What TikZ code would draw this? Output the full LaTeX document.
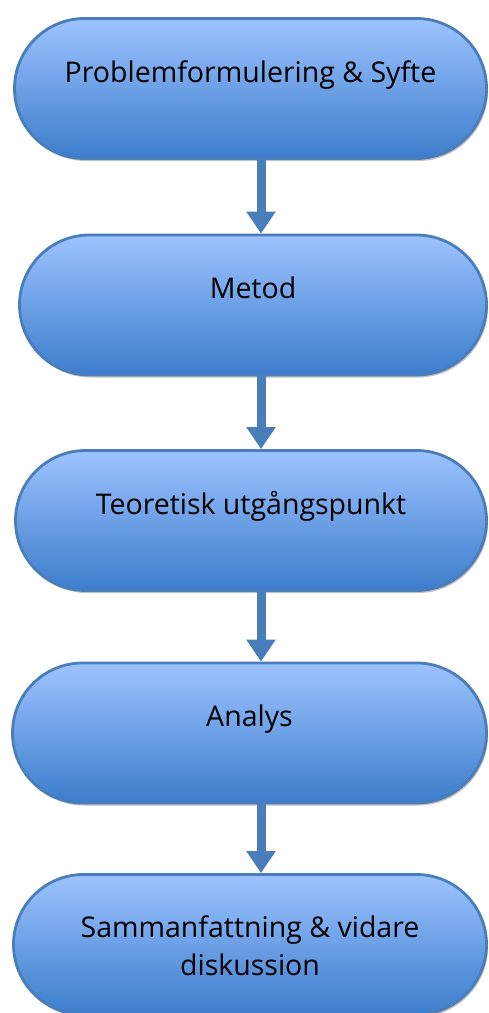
\documentclass[tikz,border=0pt]{standalone}
\usepackage{fontspec}
\setmainfont{Open Sans}
\usepackage{tikz}
\newcommand{\stageheight}{140pt}
\newcommand{\textdrop}{65pt}
\usetikzlibrary{arrows.meta,positioning,shapes.misc,shadows}
\definecolor{stagetop}{HTML}{9DC3FF}
\definecolor{stagebottom}{HTML}{3C7DCC}
\definecolor{stageborder}{HTML}{4A7EBB}
\tikzset{
  x=1pt,y=-1pt,
  stage/.style={draw=stageborder,line width=2.8pt,shape=rounded rectangle,top color=stagetop,bottom color=stagebottom,minimum height=\stageheight,inner sep=0,
    drop shadow={shadow xshift=1.5pt,shadow yshift=-2.5pt,fill=black!30,opacity=0.8}},
  stagetext/.style={font=\fontsize{28.5pt}{38pt}\selectfont,align=center,inner sep=0,text=black},
  flow/.style={draw=stageborder,line width=9pt,-{Triangle[width=28pt,length=22pt]}}
}

\begin{document}
\begin{tikzpicture}
    \useasboundingbox (0,0) rectangle (488,1013);
    \coordinate (spine) at (261,0);

    \node (problem) [stage,minimum width=472pt] at (250.5,88.5) {};
    \node (metod) [stage,minimum width=467pt] at (253,305) {};
    \node (teori) [stage,minimum width=471pt] at (251,520.5) {};
    \node (analys) [stage,minimum width=474pt] at (249.5,733) {};
    \node (summa) [stage,minimum width=473pt] at (250,944.5) {};

    \node (problemtext) [stagetext,below=\textdrop of problem.north,anchor=base] {Problemformulering \& Syfte};
    \node (metodtext) [stagetext,below=\textdrop of metod.north,anchor=base] {Metod};
    \node (teoritext) [stagetext,below=\textdrop of teori.north,anchor=base] {Teoretisk utgångspunkt};
    \node (analystext) [stagetext,below=\textdrop of analys.north,anchor=base] {Analys};
    % base sits on the last line here
    \node (summatext) [stagetext,below=102pt of summa.north,anchor=base] {Sammanfattning \& vidare\\diskussion};

    \path [flow] (problem.south -| spine) -- (metod.north -| spine);
    \path [flow] (metod.south -| spine) -- (teori.north -| spine);
    \path [flow] (teori.south -| spine) -- (analys.north -| spine);
    \path [flow] (analys.south -| spine) -- (summa.north -| spine);
\end{tikzpicture}
\end{document}
